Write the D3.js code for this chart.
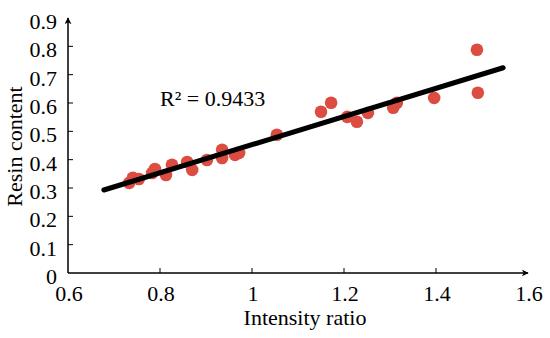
<!DOCTYPE html>
<html>
<head>
<meta charset="utf-8">
<script src="https://cdn.jsdelivr.net/npm/d3@7"></script>
<style>
  body { margin: 0; background: #fff; }
  text { font-family: "Liberation Serif", "Times New Roman", serif; fill: #000; }
</style>
</head>
<body>
<div id="chart"></div>
<script>
// intensity ratio vs resin content
const ratio = [0.733, 0.741, 0.754, 0.783, 0.789, 0.813, 0.826, 0.859, 0.870, 0.902,
  0.935, 0.935, 0.963, 0.972, 1.054, 1.150, 1.172, 1.207, 1.228, 1.252,
  1.307, 1.315, 1.396, 1.489, 1.491];
const resin = [0.318, 0.336, 0.332, 0.353, 0.367, 0.346, 0.382, 0.392, 0.364, 0.399,
  0.435, 0.406, 0.417, 0.424, 0.488, 0.569, 0.601, 0.551, 0.534, 0.565,
  0.583, 0.601, 0.618, 0.788, 0.636];

const xTicks = [0.6, 0.8, 1, 1.2, 1.4, 1.6];
const yTicks = [0, 0.1, 0.2, 0.3, 0.4, 0.5, 0.6, 0.7, 0.8, 0.9];

// linear trend line
const fitSlope = 0.497;
const fitIntercept = -0.044;
const fitRange = [0.678, 1.546];
const r2Label = 'R² = 0.9433';

const W = 550, H = 338;
const m = {t: 18, r: 22, b: 65, l: 68};

const svg = d3.select('#chart')
  .append('svg')
  .attr('width', W)
  .attr('height', H);

const x = d3.scaleLinear().domain([0.6, 1.6]).range([m.l, W - m.r]);
const y = d3.scaleLinear().domain([0, 0.9]).range([H - m.b, m.t]);

const defs = svg.append('defs');
defs.append('marker')
  .attr('id', 'arrow')
  .attr('viewBox', '0 0 10 10')
  .attr('refX', 9).attr('refY', 5)
  .attr('markerWidth', 7).attr('markerHeight', 7)
  .attr('markerUnits', 'userSpaceOnUse')
  .attr('orient', 'auto')
  .append('path')
  .attr('d', 'M0,0 L10,5 L0,10 L3,5 Z')
  .attr('fill', '#000');

// axes lines with arrows
svg.append('line')
  .attr('x1', x(0.6)).attr('y1', y(0))
  .attr('x2', x(1.6)).attr('y2', y(0))
  .attr('stroke', '#000').attr('stroke-width', 1.5)
  .attr('marker-end', 'url(#arrow)');
svg.append('line')
  .attr('x1', x(0.6)).attr('y1', y(0))
  .attr('x2', x(0.6)).attr('y2', y(0.9))
  .attr('stroke', '#000').attr('stroke-width', 1.5)
  .attr('marker-end', 'url(#arrow)');

// tick marks
svg.selectAll('.xtick')
  .data(xTicks.slice(1, -1))
  .enter().append('line')
  .attr('class', 'xtick')
  .attr('x1', d => x(d)).attr('x2', d => x(d))
  .attr('y1', y(0)).attr('y2', y(0) - 5)
  .attr('stroke', '#000').attr('stroke-width', 1);
svg.selectAll('.ytick')
  .data(yTicks.slice(1, -1))
  .enter().append('line')
  .attr('class', 'ytick')
  .attr('x1', x(0.6)).attr('x2', x(0.6) + 5)
  .attr('y1', d => y(d)).attr('y2', d => y(d))
  .attr('stroke', '#000').attr('stroke-width', 1);

// tick labels
svg.selectAll('.xlab')
  .data(xTicks)
  .enter().append('text')
  .attr('class', 'xlab')
  .attr('x', d => x(d) + 1)
  .attr('y', y(0) + 28)
  .attr('text-anchor', 'middle')
  .style('font-size', '22px')
  .text(d => d3.format('')(d));
svg.selectAll('.ylab')
  .data(yTicks)
  .enter().append('text')
  .attr('class', 'ylab')
  .attr('x', x(0.6) - 11)
  .attr('y', d => y(d) + 11)
  .attr('text-anchor', 'end')
  .style('font-size', '22px')
  .text(d => d3.format('')(d));

// axis titles
svg.append('text')
  .attr('x', (x(0.6) + x(1.6)) / 2 + 7)
  .attr('y', y(0) + 52)
  .attr('text-anchor', 'middle')
  .style('font-size', '22px')
  .text('Intensity ratio');
svg.append('text')
  .attr('transform', `translate(22, ${y(0.45) + 1}) rotate(-90)`)
  .attr('text-anchor', 'middle')
  .style('font-size', '22px')
  .text('Resin content');

// points
svg.selectAll('.dot')
  .data(ratio.map((d, i) => [d, resin[i]]))
  .enter().append('circle')
  .attr('class', 'dot')
  .attr('cx', d => x(d[0]))
  .attr('cy', d => y(d[1]))
  .attr('r', 6.3)
  .attr('fill', '#dc4c40');

// trend line
svg.append('line')
  .attr('x1', x(fitRange[0])).attr('y1', y(fitSlope * fitRange[0] + fitIntercept))
  .attr('x2', x(fitRange[1])).attr('y2', y(fitSlope * fitRange[1] + fitIntercept))
  .attr('stroke', '#000').attr('stroke-width', 5)
  .attr('stroke-linecap', 'round');

svg.append('text')
  .attr('x', 160)
  .attr('y', 106)
  .style('font-size', '22px')
  .text(r2Label);
</script>
</body>
</html>
